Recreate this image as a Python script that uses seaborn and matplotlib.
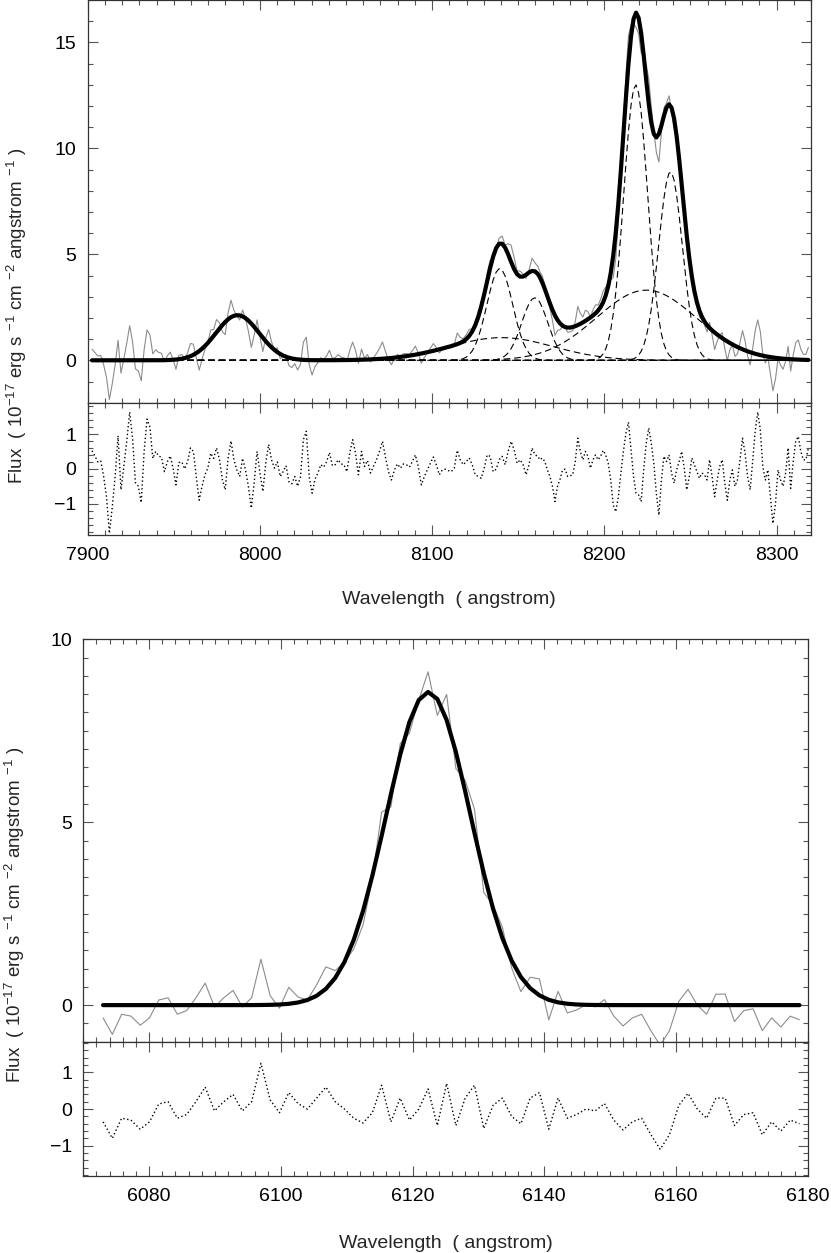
import matplotlib
matplotlib.use("Agg")
import matplotlib.pyplot as plt
import numpy as np
import pandas as pd
import seaborn as sns
from matplotlib.ticker import MultipleLocator

sns.set_theme(style="ticks")
plt.rcParams["font.family"] = ["Liberation Sans", "DejaVu Sans"]
plt.rcParams["mathtext.default"] = "regular"

# ---------------- upper spectrum: 7900 - 8320 A ----------------
# residuals (data - fit), read in three stretches
top_range_a = (7902.5, 8057.2)
top_resid_a = [0.52, 0.37, 0.2, 0.23, -0.2, -0.8, -1.85, -1.1, -0.2, 0.95, -0.6, 0.07, 0.8, 1.63,
               0.88, -0.4, -0.5, -0.97, 0.5, 1.43, 1.2, 0.3, 0.5, 0.37, 0.33, -0.08, 0.2, 0.37,
               0.02, -0.46, 0.18, 0.2, 0.0, 0.2, 0.6, 0.5, -0.22, -0.9, -0.5, -0.17, 0.02, 0.45,
               0.3, 0.6, 0.28, -0.3, -0.6, 0.3, 0.8, 0.26, -0.03, -0.22, 0.3, -0.03, -0.5, -1.13,
               -0.4, 0.5, -0.12, -0.65, 0.16, 0.7, 0.26, 0.02, 0.2, -0.22, -0.08, 0.09, -0.37,
               -0.43, -0.22, -0.5, -0.22, 0.84, 1.08, -0.22, -0.7, -0.3, -0.12, 0.12, 0.05, 0.2,
               0.47, 0.09, 0.12, 0.26, 0.14, 0.12, -0.08, 0.45, 0.84, 0.45, -0.17]
top_range_b = (8059.0, 8161.5)
top_resid_b = [0.5, 0.07, 0.24, -0.12, 0.07, 0.26, 0.5, 0.79, 0.34, -0.08, -0.32, -0.03, 0.14,
               0.02, 0.14, 0.12, 0.05, 0.21, 0.4, 0.05, -0.46, -0.22, -0.03, 0.16, 0.34, 0.12,
               -0.17, -0.03, -0.01, -0.05, -0.08, 0.02, 0.53, 0.26, 0.12, 0.21, 0.31, 0.12,
               -0.17, -0.22, -0.27, 0.02, 0.4, 0.36, -0.08, -0.01, 0.26, 0.36, 0.12, 0.5, 0.79,
               0.55, 0.16, 0.26, 0.12, -0.17, 0.12, 0.6, 0.4, 0.36]
top_range_c = (8162.5, 8318.5)
top_resid_c = [0.26, 0.31, 0.21, -0.03, -0.22, -0.5, -0.94, -0.5, -0.3, -0.03, -0.01, -0.22, -0.2,
               -0.17, 0.21, 0.88, 0.5, 0.26, 0.5, 0.36, 0.02, 0.26, 0.4, 0.26, 0.36, 0.53, 0.4,
               0.16, -0.32, -1.04, -1.23, -0.8, -0.12, 0.5, 1.03, 1.34, 0.55, -0.22, -0.7, -0.75,
               -0.94, -0.03, 0.74, 1.17, 0.74, 0.16, -0.7, -1.33, -0.32, 0.36, 0.21, 0.4, -0.12,
               -0.41, -0.03, 0.21, 0.5, 0.02, -0.6, -0.22, 0.31, 0.12, -0.08, -0.27, -0.12, -0.17,
               -0.32, 0.26, -0.22, -0.8, -0.32, 0.07, 0.26, -0.41, -0.9, -0.32, -0.03, -0.5,
               -0.32, 0.26, 0.88, 0.45, -0.22, -0.6, 0.21, 1.08, 1.63, 1.13, 0.07, -0.32, -0.03,
               -0.8, -1.57, -1.0, -0.03, -0.32, -0.5, -0.12, 0.6, -0.56, 0.21, 0.79, 0.93, 0.5,
               0.26, 0.26, 0.6]

# fitted gaussian components (centre, peak, sigma)
top_centers = [7987.0, 8139.3, 8159.6, 8140.3, 8218.2, 8238.4, 8224.4]
top_peaks = [2.13, 4.33, 2.95, 1.07, 13.0, 8.9, 3.31]
top_sigmas = [12.5, 7.5, 7.5, 30.0, 6.9, 6.9, 29.0]

# ---------------- lower spectrum: 6070 - 6180 A ----------------
bot_range = (6073.0, 6178.75)
bot_resid = [-0.35, -0.8, -0.25, -0.3, -0.55, -0.35, 0.14, 0.2, -0.25, -0.15, 0.2, 0.6, -0.05,
             0.2, 0.4, -0.05, 0.2, 1.25, 0.25, -0.1, 0.45, 0.15, 0.0, 0.3, 0.6, 0.2, 0.0, -0.25,
             -0.38, -0.1, 0.65, -0.35, 0.3, -0.3, 0.0, 0.55, -0.45, 0.7, -0.45, 0.3, 0.65, -0.53,
             0.1, 0.3, -0.2, -0.4, 0.3, 0.45, -0.55, 0.3, -0.25, -0.15, 0.0, -0.05, 0.15, -0.3,
             -0.57, -0.35, -0.25, -0.7, -1.1, -0.7, 0.1, 0.43, 0.0, -0.25, 0.3, 0.3, -0.45,
             -0.15, -0.1, -0.7, -0.35, -0.6, -0.3, -0.4]
bot_centers = [6122.4]
bot_peaks = [8.56]
bot_sigmas = [6.4]


def gauss(w, c, a, s):
    return a * np.exp(-0.5 * ((w - c) / s) ** 2)


def build(waves, resid, centers, peaks, sigmas):
    comps = [gauss(waves, c, a, s) for c, a, s in zip(centers, peaks, sigmas)]
    fit = np.sum(comps, axis=0)
    df = pd.DataFrame({"wave": waves, "fit": fit, "resid": resid, "flux": fit + resid})
    return df, comps


top_wave = np.concatenate([np.linspace(*top_range_a, len(top_resid_a)),
                           np.linspace(*top_range_b, len(top_resid_b)),
                           np.linspace(*top_range_c, len(top_resid_c))])
top_df, top_comps = build(top_wave, np.array(top_resid_a + top_resid_b + top_resid_c),
                          top_centers, top_peaks, top_sigmas)
bot_wave = np.linspace(*bot_range, len(bot_resid))
bot_df, bot_comps = build(bot_wave, np.array(bot_resid), bot_centers, bot_peaks, bot_sigmas)

W, H = 831, 1253
fig = plt.figure(figsize=(W / 100, H / 100), dpi=100)


def px_axes(left, right, top, bottom):
    return fig.add_axes([left / W, 1 - bottom / H, (right - left) / W, (bottom - top) / H])


def style(ax, xmaj, xmin, ymaj, ymin):
    ax.xaxis.set_major_locator(MultipleLocator(xmaj))
    ax.xaxis.set_minor_locator(MultipleLocator(xmin))
    ax.yaxis.set_major_locator(MultipleLocator(ymaj))
    ax.yaxis.set_minor_locator(MultipleLocator(ymin))
    ax.tick_params(which="both", direction="in", top=True, right=True, color="#555555",
                   labelsize=14, labelcolor="black")
    ax.tick_params(which="major", length=7, width=0.8)
    ax.tick_params(which="minor", length=3.6, width=0.8)
    ax.tick_params(axis="y", pad=8)
    ax.tick_params(axis="x", pad=9)
    for sp in ax.spines.values():
        sp.set_color("#333333")
        sp.set_linewidth(0.9)
    ax.set_xlabel("")
    ax.set_ylabel("")
    ax.grid(False)


panels = [
    dict(df=top_df, comps=top_comps, box=(87.7, 811, 0, 402.7), rbox=(87.7, 811, 402.7, 535),
         xlim=(7900, 8320), ylim=(-2, 17), rlim=(-1.9, 1.9), xt=(100, 10), yt=(5, 1),
         dashed=True, xlab_y=600, ylab=(17, 316)),
    dict(df=bot_df, comps=bot_comps, box=(83.3, 807.7, 639.3, 1041.7),
         rbox=(83.3, 807.7, 1041.7, 1175.7), xlim=(6070, 6180), ylim=(-1, 10),
         rlim=(-1.82, 1.84), xt=(20, 2), yt=(5, 0.5), dashed=False, xlab_y=1243,
         ylab=(15, 915)),
]

ylabel = ("Flux  ( 10$^{-17}$ erg s $^{-1}$ cm $^{-2}$ angstrom $^{-1}$ )")

for p in panels:
    df = p["df"]
    ax = px_axes(*p["box"])
    sns.lineplot(data=df, x="wave", y="flux", ax=ax, color="#8c8c8c", lw=0.8, sort=False)
    if p["dashed"]:
        for comp in p["comps"]:
            sns.lineplot(x=df["wave"], y=comp, ax=ax, color="black", lw=0.8, sort=False)
            ax.lines[-1].set_dashes([6, 3.5])
    sns.lineplot(data=df, x="wave", y="fit", ax=ax, color="black", lw=3.0, sort=False)
    ax.set_xlim(*p["xlim"])
    ax.set_ylim(*p["ylim"])
    style(ax, p["xt"][0], p["xt"][1], p["yt"][0], p["yt"][1])
    ax.tick_params(axis="x", labelbottom=False)

    rax = px_axes(*p["rbox"])
    sns.lineplot(data=df, x="wave", y="resid", ax=rax, color="black", lw=1.0, sort=False)
    rax.lines[-1].set_dashes([1, 1.8])
    rax.set_xlim(*p["xlim"])
    rax.set_ylim(*p["rlim"])
    style(rax, p["xt"][0], p["xt"][1], 1, 0.2)

    cx = (p["box"][0] + p["box"][1]) / 2
    fig.text(cx / W, 1 - p["xlab_y"] / H, "Wavelength  ( angstrom)", ha="center",
             va="center", fontsize=14)
    fig.text(p["ylab"][0] / W, 1 - p["ylab"][1] / H, ylabel, rotation=90, ha="center",
             va="center", fontsize=13.5)

fig.savefig("out.png", dpi=100)
